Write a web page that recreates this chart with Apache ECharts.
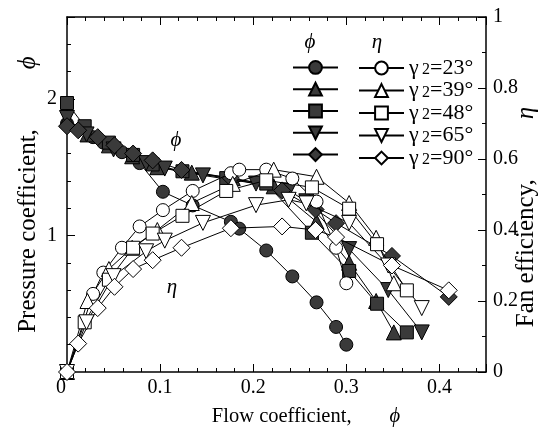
<!DOCTYPE html>
<html>
<head>
<meta charset="utf-8">
<script src="https://cdn.jsdelivr.net/npm/echarts@6/dist/echarts.min.js"></script>
<style>html,body{margin:0;padding:0;background:#fff}#c{width:541px;height:432px}</style>
</head>
<body>
<div id="c"></div>
<script>
// ---- data ----
const gammaLabels = ['23', '39', '48', '65', '90'];

const x23   = [0, 0.028, 0.039, 0.059, 0.078, 0.103, 0.135, 0.176, 0.185, 0.214, 0.242, 0.268, 0.289, 0.30];
const phi23 = [1.82, 1.72, 1.68, 1.61, 1.53, 1.32, 1.22, 1.10, 1.05, 0.89, 0.70, 0.51, 0.33, 0.20];
const eta23 = [0, 0.22, 0.28, 0.35, 0.41, 0.456, 0.51, 0.56, 0.57, 0.57, 0.545, 0.48, 0.35, 0.25];

const x39   = [0, 0.022, 0.045, 0.07, 0.097, 0.134, 0.178, 0.222, 0.268, 0.303, 0.332, 0.351];
const phi39 = [1.85, 1.74, 1.66, 1.58, 1.50, 1.46, 1.42, 1.36, 1.10, 0.80, 0.52, 0.29];
const eta39 = [0, 0.20, 0.29, 0.35, 0.40, 0.476, 0.53, 0.57, 0.55, 0.476, 0.378, 0.25];

const x48   = [0, 0.019, 0.045, 0.071, 0.092, 0.124, 0.171, 0.214, 0.263, 0.303, 0.333, 0.365];
const phi48 = [1.97, 1.80, 1.68, 1.59, 1.52, 1.47, 1.42, 1.38, 1.02, 0.74, 0.50, 0.29];
const eta48 = [0, 0.14, 0.26, 0.35, 0.39, 0.44, 0.51, 0.54, 0.52, 0.46, 0.36, 0.23];

const x65   = [0, 0.021, 0.05, 0.085, 0.105, 0.146, 0.203, 0.238, 0.257, 0.303, 0.345, 0.381];
const phi65 = [1.86, 1.74, 1.63, 1.53, 1.49, 1.44, 1.38, 1.33, 1.25, 0.90, 0.60, 0.29];
const eta65 = [0, 0.14, 0.27, 0.34, 0.37, 0.42, 0.47, 0.485, 0.475, 0.42, 0.30, 0.18];

const x90   = [0, 0.012, 0.033, 0.051, 0.071, 0.092, 0.123, 0.176, 0.231, 0.267, 0.289, 0.349, 0.41];
const phi90 = [1.80, 1.77, 1.72, 1.66, 1.60, 1.55, 1.48, 1.42, 1.33, 1.19, 1.09, 0.85, 0.55];
const eta90 = [0, 0.08, 0.18, 0.24, 0.29, 0.315, 0.35, 0.405, 0.41, 0.40, 0.38, 0.30, 0.23];

const xTickLabels = ['0', '0.1', '0.2', '0.3', '0.4'];
const leftTickLabels = ['1', '2'];
const rightTickLabels = ['0', '0.2', '0.4', '0.6', '0.8', '1'];

// ---- chart ----
const FONT = "'Liberation Serif','DejaVu Serif',serif";
const downTri = 'path://M0,0 L10,0 L5,9 Z';
const symbols = ['circle', 'triangle', 'rect', downTri, 'diamond'];
const sizes = [13, 15, 13, 15, 17];
const xs = [x23, x39, x48, x65, x90];
const phis = [phi23, phi39, phi48, phi65, phi90];
const etas = [eta23, eta39, eta48, eta65, eta90];

function pairs(x, y) { return x.map((v, i) => [v, y[i]]); }
function near(v, step) { return Math.abs(v / step - Math.round(v / step)) < 1e-6; }

const series = [];
gammaLabels.forEach((g, i) => {
  series.push({
    name: 'phi' + g, type: 'line', xAxisIndex: 0, yAxisIndex: 0,
    data: pairs(xs[i], phis[i]), symbol: symbols[i], symbolSize: sizes[i],
    lineStyle: { color: '#000', width: 1 },
    itemStyle: { color: '#3a3a3a', borderColor: '#000', borderWidth: 1 },
    z: 2, animation: false
  });
});
gammaLabels.forEach((g, i) => {
  series.push({
    name: 'eta' + g, type: 'line', xAxisIndex: 0, yAxisIndex: 2,
    data: pairs(xs[i], etas[i]), symbol: symbols[i], symbolSize: sizes[i],
    lineStyle: { color: '#000', width: 1 },
    itemStyle: { color: '#fff', borderColor: '#000', borderWidth: 1 },
    z: 3, animation: false
  });
});

const tickCommon = { inside: true, lineStyle: { color: '#000', width: 1 } };
const lineCommon = { show: true, onZero: false, lineStyle: { color: '#000', width: 1.5 } };
const noLine = { show: false, onZero: false };
const txt = (size, italic) => ({ fontFamily: FONT, fontSize: size, color: '#000', fontStyle: italic ? 'italic' : 'normal' });

const option = {
  animation: false,
  backgroundColor: '#fff',
  grid: { left: 67, right: 55, top: 17, bottom: 60, containLabel: false, outerBoundsMode: 'none' },
  xAxis: [
    { type: 'value', position: 'bottom', min: 0, max: 0.45, interval: 0.02,
      axisLine: lineCommon, axisTick: Object.assign({ length: 4 }, tickCommon),
      splitLine: { show: false },
      axisLabel: { margin: 6, fontFamily: FONT, fontSize: 20, color: '#000',
        formatter: v => {
          if (!(near(v, 0.1) && v < 0.449)) return '';
          const k = Math.round(v * 10);
          return k === 0 ? '{z|' + xTickLabels[0] + '}' : xTickLabels[k];
        },
        rich: { z: Object.assign({ padding: [0, 12, 0, 0] }, txt(20)) } },
      name: '{a|Flow coefficient,}{b|ϕ}', nameLocation: 'middle', nameGap: 34, nameMoveOverlap: false,
      nameTextStyle: { rich: { a: Object.assign({ padding: [0, 0, 0, 59] }, txt(20.5)),
                                b: Object.assign({ padding: [0, 0, 0, 38] }, txt(20.5, true)) } } },
    { type: 'value', position: 'bottom', min: 0, max: 0.45, interval: 0.1,
      axisLine: noLine, axisTick: Object.assign({ length: 8 }, tickCommon),
      axisLabel: { show: false }, splitLine: { show: false } },
    { type: 'value', position: 'top', min: 0, max: 0.45, interval: 0.02,
      axisLine: lineCommon, axisTick: Object.assign({ length: 4 }, tickCommon),
      axisLabel: { show: false }, splitLine: { show: false } },
    { type: 'value', position: 'top', min: 0, max: 0.45, interval: 0.1,
      axisLine: noLine, axisTick: Object.assign({ length: 8 }, tickCommon),
      axisLabel: { show: false }, splitLine: { show: false } }
  ],
  yAxis: [
    { type: 'value', position: 'left', min: 0, max: 2.6, interval: 0.2,
      axisLine: lineCommon, axisTick: Object.assign({ length: 4 }, tickCommon),
      splitLine: { show: false },
      axisLabel: { margin: 10, fontFamily: FONT, fontSize: 20, color: '#000',
        formatter: v => (near(v, 1) && v > 0.5 && v < 2.5) ? leftTickLabels[Math.round(v) - 1] : '' },
      name: '{a|Pressure coefficient,}{b|ϕ}', nameLocation: 'middle', nameGap: 26, nameRotate: 90, nameMoveOverlap: false,
      nameTextStyle: { rich: { a: txt(25), b: Object.assign({ padding: [0, 0, 0, 60] }, txt(25, true)) } } },
    { type: 'value', position: 'left', min: 0, max: 2.6, interval: 1,
      axisLine: noLine, axisTick: Object.assign({ length: 8 }, tickCommon),
      axisLabel: { show: false }, splitLine: { show: false } },
    { type: 'value', position: 'right', min: 0, max: 1, interval: 0.1,
      axisLine: lineCommon, axisTick: Object.assign({ length: 4 }, tickCommon),
      splitLine: { show: false },
      axisLabel: { margin: 7, fontFamily: FONT, fontSize: 20, color: '#000',
        formatter: v => near(v, 0.2) ? rightTickLabels[Math.round(v * 5)] : '' },
      name: '{a|Fan efficiency,}{b|η}', nameLocation: 'middle', nameGap: 28, nameRotate: 90, nameMoveOverlap: false,
      nameTextStyle: { rich: { a: txt(25), b: Object.assign({ padding: [0, 45, 0, 60] }, txt(25, true)) } } },
    { type: 'value', position: 'right', min: 0, max: 1, interval: 0.2,
      axisLine: noLine, axisTick: Object.assign({ length: 8 }, tickCommon),
      axisLabel: { show: false }, splitLine: { show: false } }
  ],
  legend: [
    { data: gammaLabels.map(g => 'phi' + g), orient: 'vertical', left: 287, top: 55,
      itemWidth: 45, itemHeight: 16, itemGap: 7, selectedMode: false,
      formatter: () => '', textStyle: { fontSize: 1, lineHeight: 1 } },
    { data: gammaLabels.map(g => 'eta' + g), orient: 'vertical', left: 353, top: 52,
      itemWidth: 45, itemHeight: 16, itemGap: 0.5, selectedMode: false,
      formatter: name => '{g|γ} {s|2}{t|=' + name.slice(3) + '°}',
      textStyle: { color: '#000', lineHeight: 20, rich: {
        g: Object.assign({ lineHeight: 20 }, txt(22)),
        s: Object.assign({ lineHeight: 12, verticalAlign: 'bottom' }, txt(16)),
        t: Object.assign({ lineHeight: 20 }, txt(22)) } } }
  ],
  graphic: [
    { type: 'text', x: 310, y: 42, style: { text: 'ϕ', font: "italic 21px 'Liberation Serif','DejaVu Serif',serif", fill: '#000', textAlign: 'center', textVerticalAlign: 'middle' } },
    { type: 'text', x: 377, y: 42, style: { text: 'η', font: "italic 21px 'Liberation Serif','DejaVu Serif',serif", fill: '#000', textAlign: 'center', textVerticalAlign: 'middle' } },
    { type: 'text', x: 176, y: 140, style: { text: 'ϕ', font: "italic 21px 'Liberation Serif','DejaVu Serif',serif", fill: '#000', textAlign: 'center', textVerticalAlign: 'middle' } },
    { type: 'text', x: 172, y: 287, style: { text: 'η', font: "italic 21px 'Liberation Serif','DejaVu Serif',serif", fill: '#000', textAlign: 'center', textVerticalAlign: 'middle' } }
  ],
  series: series
};

const chart = echarts.init(document.getElementById('c'), null, { renderer: 'canvas' });
chart.setOption(option);
</script>
</body>
</html>
